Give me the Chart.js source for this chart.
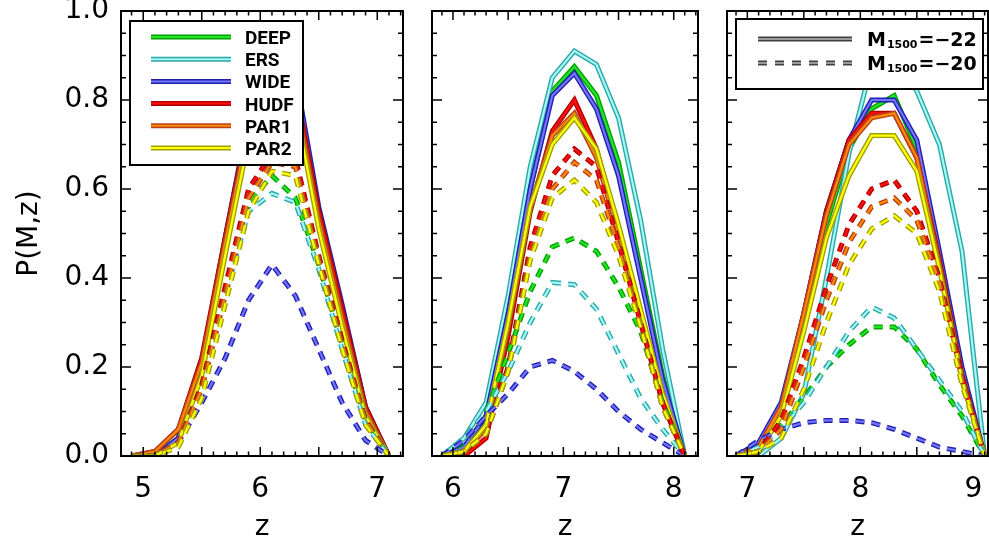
<!DOCTYPE html>
<html>
<head>
<meta charset="utf-8">
<script src="https://cdn.jsdelivr.net/npm/chart.js@4.4.1/dist/chart.umd.min.js"></script>
<style>
    html, body { margin: 0; padding: 0; background: #fff; }
    #wrap { position: relative; width: 989px; height: 540px; overflow: hidden; }
    #wrap canvas { position: absolute; left: 0; top: 0; }
</style>
</head>
<body>
<div id="wrap">
    <canvas id="panel1" width="989" height="540"></canvas>
    <canvas id="panel2" width="989" height="540"></canvas>
    <canvas id="panel3" width="989" height="540"></canvas>
</div>
<script>
// Surveys and their line colours (inner bright stroke / darker edge)
const surveys = ['DEEP', 'ERS', 'WIDE', 'HUDF', 'PAR1', 'PAR2'];
const innerColors = ['#22e622', '#a8f6f6', '#7474ff', '#ff1010', '#ff8a00', '#ffff10'];
const outerColors = ['#00a000', '#2aa8a8', '#2020b0', '#b00000', '#b84020', '#a0a000'];

const magLabels = ['M1500=\u221222', 'M1500=\u221220'];

// Redshift grids of the three panels
const z1 = [4.9, 5.1, 5.3, 5.5, 5.7, 5.9, 6.1, 6.3, 6.5, 6.7, 6.9, 7.1];
const z2 = [5.9, 6.1, 6.3, 6.5, 6.7, 6.9, 7.1, 7.3, 7.5, 7.7, 7.9, 8.1];
const z3 = [6.9, 7.1, 7.3, 7.5, 7.7, 7.9, 8.1, 8.3, 8.5, 8.7, 8.9, 9.1];

// Axis ranges and tick labels
const xRange1 = [4.81, 7.22];
const xRange2 = [5.81, 8.22];
const xRange3 = [6.82, 9.13];
const xTicks1 = [5, 6, 7];
const xTicks2 = [6, 7, 8];
const xTicks3 = [7, 8, 9];
const yTicks = [0, 0.2, 0.4, 0.6, 0.8, 1.0];

// P(M,z), rows follow `surveys`; bright = M1500=-22 (solid), faint = M1500=-20 (dashed)
const bright1 = [
    [0, 0, 0.04, 0.20, 0.48, 0.74, 0.82, 0.83, 0.54, 0.32, 0.10, 0],
    [0, 0, 0.04, 0.20, 0.47, 0.73, 0.80, 0.80, 0.53, 0.31, 0.10, 0],
    [0, 0, 0.04, 0.21, 0.49, 0.76, 0.85, 0.86, 0.56, 0.34, 0.11, 0],
    [0, 0.01, 0.06, 0.22, 0.49, 0.75, 0.82, 0.83, 0.55, 0.33, 0.11, 0],
    [0, 0.01, 0.06, 0.21, 0.48, 0.74, 0.80, 0.81, 0.53, 0.31, 0.10, 0],
    [0, 0, 0.03, 0.18, 0.45, 0.71, 0.78, 0.79, 0.51, 0.29, 0.09, 0]
];
const faint1 = [
    [0, 0, 0.03, 0.15, 0.37, 0.57, 0.63, 0.58, 0.43, 0.25, 0.08, 0],
    [0, 0, 0.03, 0.15, 0.36, 0.55, 0.59, 0.57, 0.42, 0.24, 0.07, 0],
    [0, 0, 0.03, 0.12, 0.22, 0.35, 0.43, 0.36, 0.24, 0.12, 0.035, 0],
    [0, 0, 0.03, 0.16, 0.38, 0.60, 0.68, 0.67, 0.45, 0.26, 0.08, 0],
    [0, 0, 0.03, 0.15, 0.36, 0.58, 0.66, 0.65, 0.44, 0.25, 0.08, 0],
    [0, 0, 0.02, 0.13, 0.34, 0.55, 0.64, 0.63, 0.43, 0.24, 0.07, 0]
];
const bright2 = [
    [0, 0.02, 0.09, 0.32, 0.60, 0.82, 0.875, 0.81, 0.66, 0.42, 0.18, 0],
    [0, 0.04, 0.12, 0.36, 0.65, 0.85, 0.91, 0.88, 0.76, 0.53, 0.24, 0],
    [0, 0.02, 0.09, 0.32, 0.60, 0.81, 0.86, 0.78, 0.63, 0.40, 0.17, 0],
    [0, 0, 0.04, 0.27, 0.55, 0.73, 0.80, 0.69, 0.50, 0.32, 0.12, 0],
    [0, 0.01, 0.06, 0.29, 0.56, 0.72, 0.77, 0.67, 0.50, 0.31, 0.12, 0],
    [0, 0.01, 0.07, 0.30, 0.56, 0.70, 0.76, 0.69, 0.52, 0.33, 0.14, 0]
];
const faint2 = [
    [0, 0.03, 0.10, 0.23, 0.37, 0.47, 0.49, 0.46, 0.38, 0.28, 0.12, 0],
    [0, 0.04, 0.10, 0.19, 0.30, 0.39, 0.385, 0.33, 0.23, 0.13, 0.06, 0],
    [0, 0.035, 0.09, 0.14, 0.20, 0.215, 0.19, 0.15, 0.10, 0.06, 0.03, 0],
    [0, 0.01, 0.05, 0.20, 0.47, 0.63, 0.69, 0.65, 0.48, 0.30, 0.12, 0],
    [0, 0.01, 0.05, 0.19, 0.45, 0.60, 0.66, 0.62, 0.47, 0.29, 0.11, 0],
    [0, 0.01, 0.05, 0.19, 0.44, 0.58, 0.62, 0.57, 0.45, 0.29, 0.11, 0]
];
const bright3 = [
    [0, 0.01, 0.10, 0.30, 0.52, 0.69, 0.78, 0.81, 0.69, 0.44, 0.18, 0],
    [0, 0, 0.04, 0.14, 0.40, 0.68, 0.88, 0.90, 0.82, 0.70, 0.46, 0],
    [0, 0.03, 0.12, 0.32, 0.55, 0.71, 0.80, 0.80, 0.71, 0.46, 0.20, 0],
    [0, 0.01, 0.10, 0.32, 0.55, 0.71, 0.77, 0.77, 0.67, 0.44, 0.18, 0],
    [0, 0.02, 0.11, 0.32, 0.54, 0.70, 0.76, 0.77, 0.67, 0.43, 0.17, 0],
    [0, 0.01, 0.09, 0.28, 0.49, 0.63, 0.72, 0.72, 0.64, 0.42, 0.17, 0]
];
const faint3 = [
    [0, 0.02, 0.07, 0.13, 0.20, 0.25, 0.29, 0.29, 0.24, 0.16, 0.09, 0],
    [0, 0.02, 0.06, 0.12, 0.20, 0.28, 0.335, 0.31, 0.24, 0.17, 0.10, 0],
    [0, 0.035, 0.06, 0.075, 0.08, 0.08, 0.075, 0.06, 0.04, 0.02, 0.01, 0],
    [0, 0.01, 0.08, 0.22, 0.38, 0.52, 0.60, 0.62, 0.55, 0.40, 0.18, 0],
    [0, 0.01, 0.06, 0.20, 0.35, 0.48, 0.56, 0.58, 0.53, 0.39, 0.17, 0],
    [0, 0.01, 0.04, 0.15, 0.30, 0.43, 0.51, 0.54, 0.50, 0.37, 0.16, 0]
];

const DASH = [9, 7];
const FONT = 'DejaVu Sans';

// Each curve is drawn twice: a wide dark stroke with a thinner bright stroke on top
function buildDatasets(z, bright, faint) {
    const drawList = [];
    [[bright, []], [faint, DASH]].forEach(([rows, dash]) => {
        rows.forEach((vals, i) => {
            const pts = z.map((x, k) => ({ x: x, y: vals[k] }));
            drawList.push({
                label: surveys[i] + ' edge',
                data: pts,
                borderColor: outerColors[i],
                borderWidth: 5,
                borderDash: dash,
                pointRadius: 0,
                tension: 0
            });
            drawList.push({
                label: surveys[i],
                data: pts,
                borderColor: innerColors[i],
                borderWidth: 2.2,
                borderDash: dash,
                pointRadius: 0,
                tension: 0
            });
        });
    });
    // Chart.js paints the last dataset first
    return drawList.reverse();
}

// Frame with inward IDL style ticks on all four sides
const frameTicks = {
    id: 'frameTicks',
    afterDraw(chart) {
        const { ctx, chartArea: a } = chart;
        const x = chart.scales.x, y = chart.scales.y;
        ctx.save();
        ctx.strokeStyle = '#000';
        ctx.lineWidth = 1.5;
        ctx.beginPath();
        for (let v = Math.ceil(x.min * 10 - 1e-6); v <= x.max * 10 + 1e-6; v++) {
            const px = x.getPixelForValue(v / 10);
            const len = v % 5 === 0 ? 9 : 4.5;
            ctx.moveTo(px, a.bottom); ctx.lineTo(px, a.bottom - len);
            ctx.moveTo(px, a.top); ctx.lineTo(px, a.top + len);
        }
        for (let v = 0; v <= 20; v++) {
            const py = y.getPixelForValue(v * 0.05);
            const len = v % 4 === 0 ? 10 : 5;
            ctx.moveTo(a.left, py); ctx.lineTo(a.left + len, py);
            ctx.moveTo(a.right, py); ctx.lineTo(a.right - len, py);
        }
        ctx.stroke();
        ctx.lineWidth = 2;
        ctx.strokeRect(a.left, a.top, a.right - a.left, a.bottom - a.top);
        ctx.restore();
    }
};

function drawSample(ctx, x0, x1, y, outer, inner, dash) {
    ctx.setLineDash(dash);
    ctx.lineCap = 'butt';
    ctx.strokeStyle = outer;
    ctx.lineWidth = 5;
    ctx.beginPath(); ctx.moveTo(x0, y); ctx.lineTo(x1, y); ctx.stroke();
    ctx.strokeStyle = inner;
    ctx.lineWidth = 2;
    ctx.beginPath(); ctx.moveTo(x0, y); ctx.lineTo(x1, y); ctx.stroke();
    ctx.setLineDash([]);
}

// Boxed legend drawn inside the plot area
const boxLegend = {
    id: 'boxLegend',
    afterDatasetsDraw(chart, args, o) {
        if (!o.rows) return;
        const ctx = chart.ctx;
        ctx.save();
        ctx.fillStyle = '#fff';
        ctx.fillRect(o.x, o.y, o.w, o.h);
        ctx.strokeStyle = '#000';
        ctx.lineWidth = 2;
        ctx.strokeRect(o.x, o.y, o.w, o.h);
        o.rows.forEach((r, i) => {
            const cy = o.firstRow + i * o.rowGap;
            drawSample(ctx, o.lineX0, o.lineX1, cy, r.outer, r.inner, r.dash);
            ctx.fillStyle = '#000';
            ctx.textBaseline = 'alphabetic';
            ctx.textAlign = 'left';
            let tx = o.textX;
            if (r.sub) {
                // "M", subscript "1500", then the rest
                const [head, sub, tail] = r.sub;
                ctx.font = 'bold 19px ' + FONT;
                ctx.fillText(head, tx, cy + 7);
                tx += ctx.measureText(head).width + 1;
                ctx.font = 'bold 11px ' + FONT;
                ctx.fillText(sub, tx, cy + 8.5);
                tx += ctx.measureText(sub).width + 1;
                ctx.font = 'bold 19px ' + FONT;
                ctx.fillText(tail, tx, cy + 7);
            } else {
                ctx.font = 'bold 19px Roboto';
                ctx.fillText(r.text, tx, cy + 7);
            }
        });
        ctx.restore();
    }
};

function makeChart(id, z, bright, faint, xRange, xTicks, pad, first, legend) {
    const ctx = document.getElementById(id).getContext('2d');
    return new Chart(ctx, {
        type: 'line',
        data: { datasets: buildDatasets(z, bright, faint) },
        options: {
            responsive: false,
            animation: false,
            events: [],
            layout: { padding: pad },
            plugins: {
                legend: { display: false },
                tooltip: { enabled: false },
                boxLegend: legend
            },
            scales: {
                x: {
                    type: 'linear',
                    min: xRange[0],
                    max: xRange[1],
                    afterBuildTicks: s => { s.ticks = xTicks.map(v => ({ value: v })); },
                    ticks: {
                        font: { family: FONT, size: 28 },
                        color: '#000',
                        padding: 17,
                        maxRotation: 0,
                        autoSkip: false
                    },
                    grid: { display: false, drawTicks: false },
                    border: { display: false },
                    title: {
                        display: true,
                        text: 'z',
                        color: '#000',
                        font: { family: FONT, size: 28, lineHeight: 1 },
                        padding: { top: 0, bottom: -2 }
                    },
                    afterFit: s => { s.height = 84; s.paddingLeft = 0; s.paddingRight = 0; }
                },
                y: {
                    min: 0,
                    max: 1,
                    afterBuildTicks: s => { s.ticks = yTicks.map(v => ({ value: v })); },
                    ticks: {
                        display: first,
                        font: { family: FONT, size: 28 },
                        color: '#000',
                        padding: 12,
                        callback: v => v.toFixed(1)
                    },
                    grid: { display: false, drawTicks: false },
                    border: { display: false },
                    title: {
                        display: first,
                        text: 'P(M,z)',
                        color: '#000',
                        font: { family: FONT, size: 28 },
                        padding: { top: 13, bottom: 0 }
                    },
                    afterFit: s => { s.width = first ? 121 : 0; s.paddingTop = 0; s.paddingBottom = 0; }
                }
            }
        },
        plugins: [frameTicks, boxLegend]
    });
}

const surveyRows = surveys.map((s, i) => ({
    text: s, outer: outerColors[i], inner: innerColors[i], dash: []
}));
const magRows = [
    { sub: ['M', '1500', '=\u221222'], outer: '#404040', inner: '#9a9a9a', dash: [] },
    { sub: ['M', '1500', '=\u221220'], outer: '#404040', inner: '#9a9a9a', dash: [9, 8] }
];

makeChart('panel1', z1, bright1, faint1, xRange1, xTicks1,
    { left: 0, right: 989 - 403, top: 11, bottom: 0 }, true,
    { x: 130, y: 21, w: 173, h: 144, firstRow: 37, rowGap: 22.2,
      lineX0: 151, lineX1: 231, textX: 245, rows: surveyRows });

makeChart('panel2', z2, bright2, faint2, xRange2, xTicks2,
    { left: 432, right: 989 - 698, top: 11, bottom: 0 }, false, {});

makeChart('panel3', z3, bright3, faint3, xRange3, xTicks3,
    { left: 727, right: 1, top: 11, bottom: 0 }, false,
    { x: 736, y: 19, w: 247, h: 70, firstRow: 39, rowGap: 24,
      lineX0: 758, lineX1: 852, textX: 867, rows: magRows });
</script>
</body>
</html>
